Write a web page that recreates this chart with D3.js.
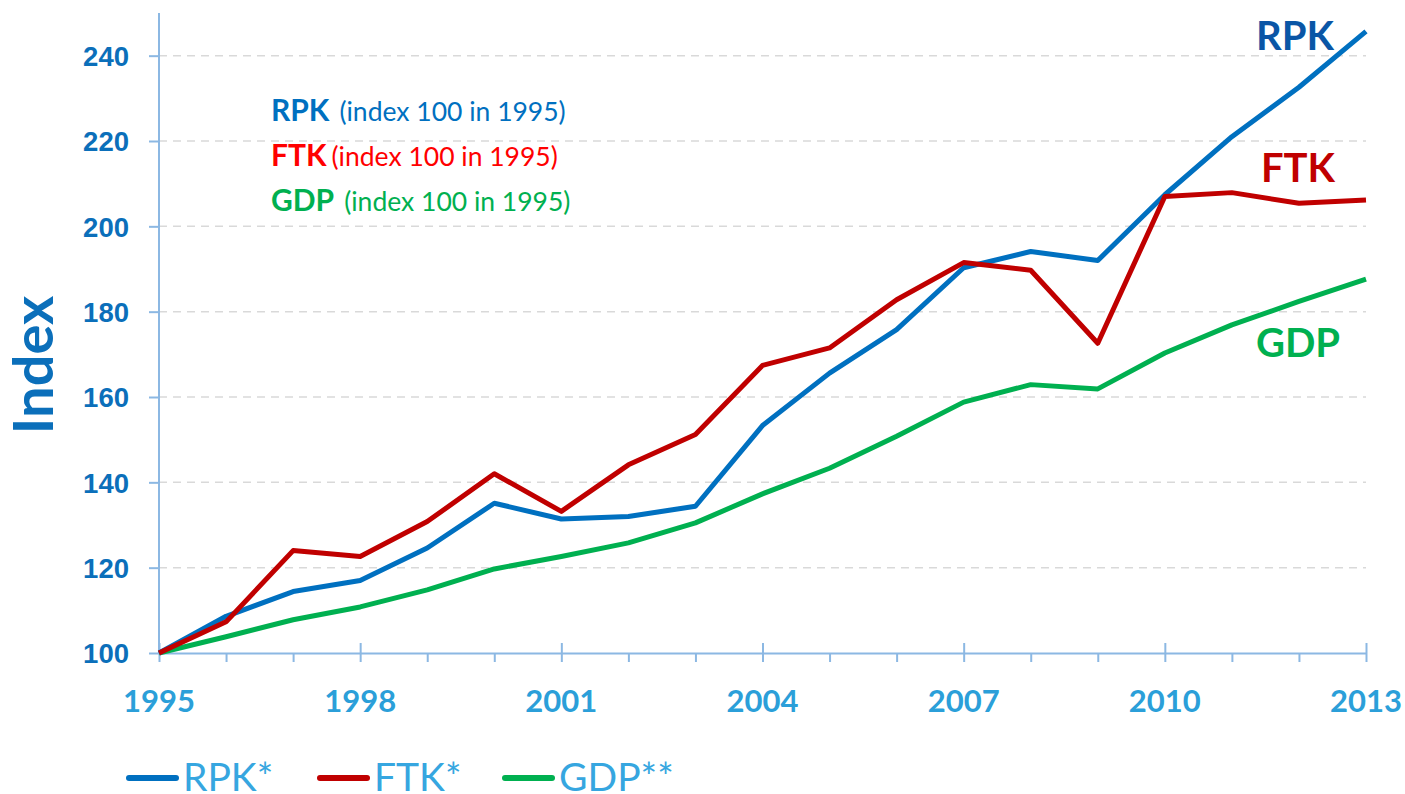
<!DOCTYPE html>
<html>
<head>
<meta charset="utf-8">
<script src="https://cdn.jsdelivr.net/npm/d3@7"></script>
<style>
  body { margin: 0; background: #fff; }
  svg { display: block; font-family: Lato, "Open Sans", sans-serif; }
</style>
</head>
<body>
<svg id="chart" width="1405" height="794"></svg>
<script>
// values (index 100 in 1995)
var years = [1995, 1996, 1997, 1998, 1999, 2000, 2001, 2002, 2003, 2004,
             2005, 2006, 2007, 2008, 2009, 2010, 2011, 2012, 2013];
var rpk = [100, 108.6, 114.4, 117, 124.6, 135.1, 131.4, 132, 134.4, 153.3,
           165.6, 175.8, 190.3, 194.1, 192, 207.4, 221, 232.6, 245.7];
var ftk = [100, 107.3, 124, 122.6, 130.8, 142, 133.2, 144.1, 151.2, 167.4,
           171.5, 182.8, 191.5, 189.7, 172.6, 207, 207.9, 205.4, 206.2];
var gdp = [100, 103.8, 107.8, 110.8, 114.8, 119.7, 122.6, 125.8, 130.5, 137.3,
           143.3, 150.8, 158.8, 162.9, 161.9, 170.3, 176.9, 182.4, 187.6];
var yTicks = [100, 120, 140, 160, 180, 200, 220, 240];
var xLabelYears = [1995, 1998, 2001, 2004, 2007, 2010, 2013];
var seriesNames = ["RPK", "FTK", "GDP"];
var legendNames = ["RPK*", "FTK*", "GDP**"];

var colors = { RPK: "#0070c0", FTK: "#c00000", GDP: "#00b050" };
var axisColor = "#8cb8e3";

var svg = d3.select("#chart");

var x = d3.scaleLinear().domain([1995, 2013]).range([159, 1366]);
var y = d3.scaleLinear().domain([100, 250]).range([653, 13]);

// gridlines
svg.append("g").selectAll("line")
    .data(yTicks.filter(function (d) { return d > 100; }))
    .enter().append("line")
    .attr("x1", x(1995)).attr("x2", x(2013))
    .attr("y1", function (d) { return y(d); })
    .attr("y2", function (d) { return y(d); })
    .attr("stroke", "#d9d9d9")
    .attr("stroke-width", 1.5)
    .attr("stroke-dasharray", "8,6");

// y axis
var yAxis = svg.append("g")
    .attr("transform", "translate(" + x(1995) + ",0)")
    .call(d3.axisLeft(y).tickValues(yTicks).tickSize(10).tickPadding(20).tickSizeOuter(0));
yAxis.select(".domain").attr("stroke", axisColor).attr("stroke-width", 2).attr("d", "M0," + y(250) + "V" + y(100));
yAxis.selectAll(".tick line").attr("stroke", axisColor).attr("stroke-width", 2);
yAxis.selectAll(".tick text")
    .attr("fill", "#0b6fba")
    .style("font-size", "27.5px")
    .style("font-weight", "bold")
    .attr("dy", "0.36em");

// x axis: minor ticks every year, long ticks on labelled years
var xAxis = svg.append("g")
    .attr("transform", "translate(0," + y(100) + ")")
    .call(d3.axisBottom(x).tickValues(years).tickSize(9).tickFormat("").tickSizeOuter(0));
xAxis.select(".domain").attr("stroke", axisColor).attr("stroke-width", 2);
xAxis.selectAll(".tick line").attr("stroke", axisColor).attr("stroke-width", 2)
    .attr("y1", function (d) { return xLabelYears.indexOf(d) >= 0 ? -10 : 0; });

svg.append("g").selectAll("text")
    .data(xLabelYears)
    .enter().append("text")
    .attr("x", function (d) { return x(d); })
    .attr("y", 712)
    .attr("text-anchor", "middle")
    .attr("fill", "#2b9fd9")
    .style("font-size", "31px")
    .style("font-weight", "bold")
    .text(function (d) { return d; });

// y title
svg.append("text")
    .attr("transform", "translate(53,365) rotate(-90)")
    .attr("text-anchor", "middle")
    .attr("fill", "#0b6fba")
    .style("font-size", "56px")
    .style("font-weight", "bold")
    .text("Index");

// lines
var line = d3.line()
    .x(function (d, i) { return x(years[i]); })
    .y(function (d) { return y(d); });

var seriesData = { RPK: rpk, FTK: ftk, GDP: gdp };
["GDP", "RPK", "FTK"].forEach(function (name) {
  svg.append("path")
      .datum(seriesData[name])
      .attr("d", line)
      .attr("fill", "none")
      .attr("stroke", colors[name])
      .attr("stroke-width", 5)
      .attr("stroke-linejoin", "round");
});

// annotation block
var noteColors = { RPK: "#0070c0", FTK: "#ff0000", GDP: "#00b050" };
seriesNames.forEach(function (name, i) {
  var t = svg.append("text")
      .attr("x", 271)
      .attr("y", 121 + i * 45);
  t.append("tspan")
      .attr("fill", noteColors[name])
      .style("font-size", "30px")
      .style("font-weight", "bold")
      .text(name);
  t.append("tspan")
      .attr("dx", name === "FTK" ? 5 : 10)
      .attr("fill", noteColors[name])
      .style("font-size", "26.5px")
      .text("(index 100 in 1995)");
});

// end labels
var endLabels = [
  { name: "RPK", x: 1295, y: 50, color: "#0a56a6" },
  { name: "FTK", x: 1298, y: 182, color: "#c00000" },
  { name: "GDP", x: 1298, y: 357, color: "#00b050" }
];
svg.append("g").selectAll("text")
    .data(endLabels)
    .enter().append("text")
    .attr("x", function (d) { return d.x; })
    .attr("y", function (d) { return d.y; })
    .attr("text-anchor", "middle")
    .attr("fill", function (d) { return d.color; })
    .style("font-size", "40px")
    .style("font-weight", "bold")
    .text(function (d) { return d.name; });

// legend
var legendX = [127, 318, 503];
var legend = svg.append("g").selectAll("g")
    .data(seriesNames)
    .enter().append("g")
    .attr("transform", function (d, i) { return "translate(" + legendX[i] + ",778)"; });
legend.append("line")
    .attr("x1", 2).attr("x2", 49)
    .attr("stroke", function (d) { return colors[d]; })
    .attr("stroke-width", 6)
    .attr("stroke-linecap", "round");
legend.append("text")
    .attr("x", 56)
    .attr("y", 13)
    .attr("fill", "#36a6e0")
    .style("font-size", "39px")
    .text(function (d, i) { return legendNames[i]; });
</script>
</body>
</html>
